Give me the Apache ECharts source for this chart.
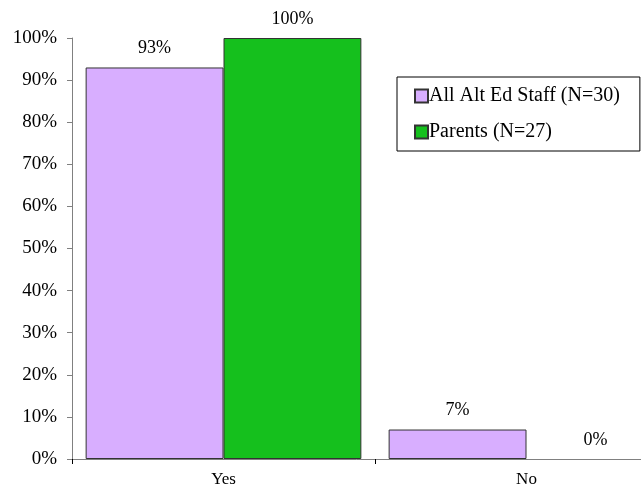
<!DOCTYPE html>
<html><head><meta charset="utf-8">
<script src="https://cdn.jsdelivr.net/npm/echarts@6/dist/echarts.min.js"></script>
<style>html,body{margin:0;padding:0;background:#fff}#c{width:641px;height:491px}</style>
</head><body><div id="c"></div>
<script>
const categories = ['Yes', 'No'];
const staffValues = [93, 7];
const parentValues = [100, 0];
const seriesNames = ['All Alt Ed Staff (N=30)', 'Parents (N=27)'];

const font = 'Liberation Serif';
const chart = echarts.init(document.getElementById('c'));
const lbl = {show: true, position: 'top', distance: 10, formatter: '{c}%', fontFamily: font, fontSize: 18, color: '#000'};
const toItems = arr => arr.map(v => ({value: v, itemStyle: v === 0 ? {borderWidth: 0} : undefined}));
chart.setOption({
  animation: false,
  backgroundColor: '#fff',
  grid: {left: 72, width: 606, top: 38, height: 421, containLabel: false, outerBoundsMode: 'none'},
  legend: {
    orient: 'vertical', left: 397, top: 77, padding: [9, 20, 9, 17], itemGap: 16,
    itemWidth: 13, itemHeight: 13, borderColor: '#000', borderWidth: 1,
    icon: 'rect',
    textStyle: {fontFamily: font, fontSize: 20, color: '#000', padding: [0, 0, 0, -4]},
    data: seriesNames
  },
  xAxis: {
    type: 'category', data: categories,
    axisLine: {lineStyle: {color: '#808080'}},
    axisTick: {show: true, interval: 0, lineStyle: {color: '#000'}, length: 5},
    axisLabel: {fontFamily: font, fontSize: 17, color: '#000', margin: 12}
  },
  yAxis: {
    type: 'value', min: 0, max: 100, interval: 10,
    splitLine: {show: false},
    axisLine: {show: true, lineStyle: {color: '#808080'}},
    axisTick: {show: true, length: 5, lineStyle: {color: '#808080'}},
    axisLabel: {formatter: '{value}%', fontFamily: font, fontSize: 19, color: '#000', margin: 15}
  },
  series: [
    {name: seriesNames[0], type: 'bar', data: toItems(staffValues), barGap: '0%', barCategoryGap: '9%',
     itemStyle: {color: '#d8aeff', borderColor: '#333', borderWidth: 1}, label: lbl},
    {name: seriesNames[1], type: 'bar', data: toItems(parentValues),
     itemStyle: {color: '#15c01d', borderColor: '#333', borderWidth: 1}, label: lbl}
  ]
});
</script></body></html>
